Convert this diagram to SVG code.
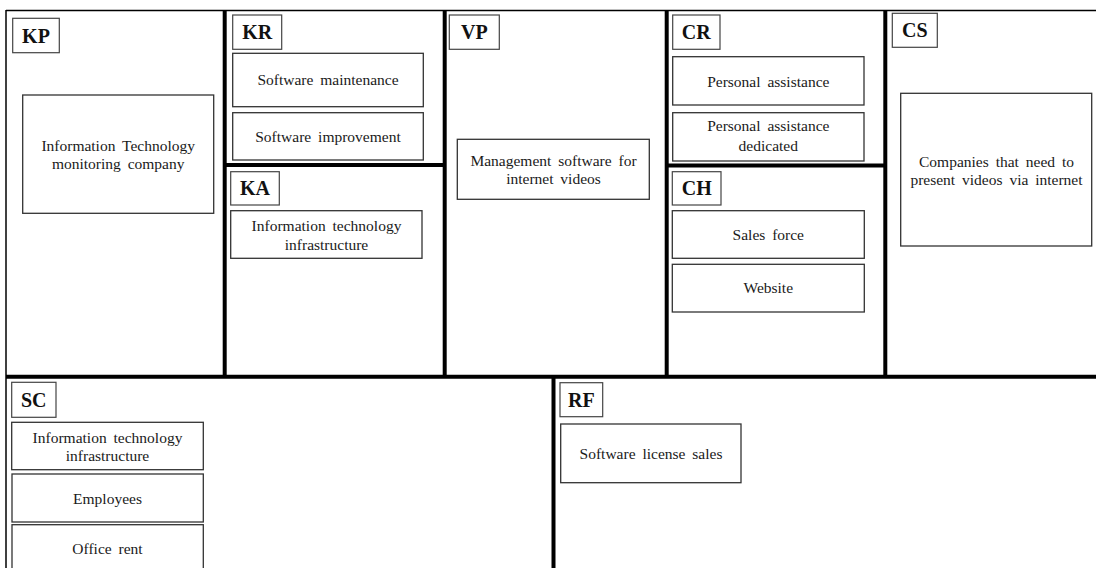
<svg xmlns="http://www.w3.org/2000/svg" width="1096" height="568" viewBox="0 0 1096 568">
<style>
.bg{fill:#ffffff}
.thin{stroke:#000;stroke-width:1.5;fill:none}
.thick{stroke:#000;stroke-width:4;fill:none}
.lbl{fill:#fff;stroke:#444;stroke-width:1.2}
.box{fill:#fff;stroke:#333;stroke-width:1.3}
.lt{font-family:"Liberation Serif","Times New Roman",serif;font-weight:bold;font-size:20px;fill:#111;text-anchor:middle}
.t{font-family:"Liberation Serif","Times New Roman",serif;font-size:15.5px;word-spacing:3px;fill:#1a1a1a;text-anchor:middle}
</style>
<rect class="bg" x="0" y="0" width="1096" height="568"/>

<g id="grid">
  <line class="thin" x1="6" y1="10.5" x2="1096" y2="10.5"/>
  <line class="thin" x1="6" y1="10" x2="6" y2="568"/>
  <line class="thick" x1="224.7" y1="10" x2="224.7" y2="376.7"/>
  <line class="thick" x1="444.7" y1="10" x2="444.7" y2="376.7"/>
  <line class="thick" x1="666.7" y1="10" x2="666.7" y2="376.7"/>
  <line class="thick" x1="885.3" y1="10" x2="885.3" y2="376.7"/>
  <line class="thick" x1="224.7" y1="165" x2="444.7" y2="165"/>
  <line class="thick" x1="666.7" y1="165.5" x2="885.3" y2="165.5"/>
  <line class="thick" x1="6" y1="376.7" x2="1096" y2="376.7"/>
  <line class="thick" x1="553.5" y1="376.7" x2="553.5" y2="568"/>
</g>

<g id="KP">
  <rect class="lbl" x="12.7" y="18.3" width="46.6" height="34.4"/>
  <text class="lt" x="36" y="42.5">KP</text>
  <rect class="box" x="22.7" y="95" width="191" height="118.3"/>
  <text class="t" x="118.2" y="150.5">Information Technology</text>
  <text class="t" x="118.2" y="169">monitoring company</text>
</g>

<g id="KR">
  <rect class="lbl" x="232.7" y="15" width="49" height="34.3"/>
  <text class="lt" x="257.2" y="39">KR</text>
  <rect class="box" x="232.7" y="53.3" width="190.6" height="53.4"/>
  <text class="t" x="328" y="85">Software maintenance</text>
  <rect class="box" x="232.7" y="112.7" width="190.6" height="47.3"/>
  <text class="t" x="328" y="141.7">Software improvement</text>
</g>

<g id="KA">
  <rect class="lbl" x="230.7" y="171.7" width="48.6" height="33.3"/>
  <text class="lt" x="255" y="195">KA</text>
  <rect class="box" x="230.7" y="210.7" width="191.3" height="47.6"/>
  <text class="t" x="326.5" y="231">Information technology</text>
  <text class="t" x="326.5" y="250">infrastructure</text>
</g>

<g id="VP">
  <rect class="lbl" x="449.3" y="15" width="50" height="34.3"/>
  <text class="lt" x="474.3" y="39">VP</text>
  <rect class="box" x="457.3" y="139.3" width="192" height="60"/>
  <text class="t" x="553.5" y="165.5">Management software for</text>
  <text class="t" x="553.5" y="184.3">internet videos</text>
</g>

<g id="CR">
  <rect class="lbl" x="672.7" y="15" width="47.3" height="34.3"/>
  <text class="lt" x="696.3" y="39">CR</text>
  <rect class="box" x="672.7" y="56.7" width="191.3" height="48.3"/>
  <text class="t" x="768.3" y="87.3">Personal assistance</text>
  <rect class="box" x="672.7" y="112.7" width="191.3" height="48.3"/>
  <text class="t" x="768.3" y="131">Personal assistance</text>
  <text class="t" x="768.3" y="150.7">dedicated</text>
</g>

<g id="CH">
  <rect class="lbl" x="672.3" y="171.7" width="48.7" height="33.3"/>
  <text class="lt" x="696.7" y="195">CH</text>
  <rect class="box" x="672.3" y="210.7" width="192" height="47.6"/>
  <text class="t" x="768.3" y="240">Sales force</text>
  <rect class="box" x="672.3" y="264.3" width="192" height="47.7"/>
  <text class="t" x="768.3" y="293.3">Website</text>
</g>

<g id="CS">
  <rect class="lbl" x="892.3" y="13.3" width="45" height="34"/>
  <text class="lt" x="914.8" y="37">CS</text>
  <rect class="box" x="900.7" y="93.3" width="191" height="152.7"/>
  <text class="t" x="996.5" y="166.7">Companies that need to</text>
  <text class="t" x="996.5" y="185.3">present videos via internet</text>
</g>

<g id="SC">
  <rect class="lbl" x="11.7" y="382.3" width="44.3" height="35"/>
  <text class="lt" x="33.8" y="406.5">SC</text>
  <rect class="box" x="11.7" y="422.3" width="191.6" height="47.4"/>
  <text class="t" x="107.5" y="443">Information technology</text>
  <text class="t" x="107.5" y="461.3">infrastructure</text>
  <rect class="box" x="12" y="474" width="191.3" height="48"/>
  <text class="t" x="107.5" y="504">Employees</text>
  <rect class="box" x="12" y="524.7" width="191.3" height="60"/>
  <text class="t" x="107.5" y="554">Office rent</text>
</g>

<g id="RF">
  <rect class="lbl" x="560" y="382.7" width="42.7" height="34"/>
  <text class="lt" x="581.3" y="406.5">RF</text>
  <rect class="box" x="560.7" y="424" width="180.3" height="58.7"/>
  <text class="t" x="651" y="459.3">Software license sales</text>
</g>
</svg>
